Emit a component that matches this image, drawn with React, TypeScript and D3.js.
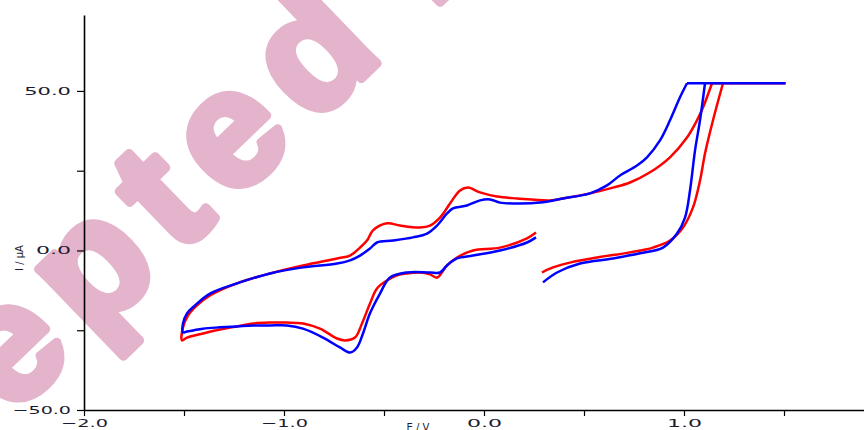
import { useEffect, useMemo, useRef } from "react";
import * as d3 from "d3";

const WIDTH = 864;
const HEIGHT = 430;
const MARGIN = { top: 15, right: 0, bottom: 20, left: 84 };

// potential (V), current (µA)
const redSweep: [number, number][] = [
  [0.26, 5.6], [0.215, 3.8], [0.08, 0.9], [-0.055, 0.0], [-0.135, -2.2], [-0.185, -4.7],
  [-0.235, -8.5], [-0.27, -7.5], [-0.32, -6.9], [-0.385, -7.2], [-0.435, -7.8], [-0.485, -9.4],
  [-0.535, -11.9], [-0.57, -16.6], [-0.61, -22.9], [-0.645, -27.3], [-0.695, -28.2], [-0.735, -27.6],
  [-0.82, -24.5], [-0.905, -22.9], [-0.985, -22.6], [-1.07, -22.6], [-1.155, -22.9], [-1.235, -23.8],
  [-1.32, -24.8], [-1.405, -26.0], [-1.485, -27.3], [-1.51, -28.2],
  [-1.505, -24.1], [-1.48, -20.4], [-1.435, -17.2], [-1.37, -14.1], [-1.235, -10.3], [-1.07, -7.2],
  [-0.905, -4.7], [-0.735, -2.5], [-0.67, -1.6], [-0.62, 0.9], [-0.585, 3.1], [-0.555, 6.3],
  [-0.485, 8.5], [-0.42, 7.8], [-0.32, 7.2], [-0.27, 7.8], [-0.22, 10.3], [-0.17, 14.7],
  [-0.12, 18.8], [-0.08, 19.7], [-0.02, 18.2], [0.065, 16.9], [0.165, 16.3], [0.33, 15.7],
  [0.395, 16.3], [0.53, 17.9], [0.645, 19.7], [0.73, 21.3], [0.83, 24.5], [0.93, 29.2],
  [1.015, 35.4], [1.065, 40.8], [1.095, 44.8], [1.14, 52.4],
];
const redClip: [number, number][] = [[1.14, 52.4], [1.51, 52.4]];
const redReturn: [number, number][] = [
  [1.195, 52.4], [1.145, 40.8], [1.105, 30.4], [1.08, 21.9], [1.045, 13.5],
  [0.995, 7.2], [0.93, 3.1], [0.845, 0.9], [0.73, -0.6], [0.565, -2.2], [0.43, -3.8],
  [0.345, -5.3], [0.29, -6.9],
];
const blueSweep: [number, number][] = [
  [0.26, 4.1], [0.215, 2.5], [0.08, 0.0], [-0.055, -1.6], [-0.135, -2.5], [-0.185, -4.7],
  [-0.22, -6.9], [-0.27, -6.9], [-0.385, -6.9], [-0.47, -8.5], [-0.52, -13.5], [-0.57, -19.7],
  [-0.605, -26.0], [-0.635, -30.4], [-0.67, -32.0], [-0.72, -30.4], [-0.805, -27.3], [-0.905, -24.5],
  [-0.985, -23.5], [-1.07, -23.5], [-1.155, -23.5], [-1.235, -23.8], [-1.32, -24.1], [-1.405, -24.5],
  [-1.485, -25.4], [-1.505, -25.7],
  [-1.505, -22.9], [-1.485, -19.7], [-1.445, -17.2], [-1.37, -13.5], [-1.235, -10.3], [-1.07, -7.2],
  [-0.905, -5.3], [-0.735, -4.1], [-0.67, -3.1], [-0.62, -1.6], [-0.57, 0.6], [-0.535, 2.5],
  [-0.455, 3.1], [-0.355, 4.1], [-0.285, 5.3], [-0.235, 7.8], [-0.185, 11.6], [-0.155, 13.2],
  [-0.085, 14.1], [-0.02, 15.7], [0.03, 16.0], [0.08, 15.0], [0.18, 14.7], [0.28, 15.0],
  [0.395, 16.3], [0.53, 17.9], [0.615, 20.4], [0.68, 23.5], [0.765, 26.6], [0.815, 29.2],
  [0.88, 34.5], [0.93, 40.8], [0.98, 48.0], [1.015, 52.4],
];
const blueClip: [number, number][] = [[1.015, 52.4], [1.505, 52.4]];
const blueReturn: [number, number][] = [
  [1.105, 52.4], [1.08, 40.8], [1.055, 31.3], [1.03, 18.8], [1.005, 10.3],
  [0.965, 5.3], [0.895, 0.9], [0.78, -0.9], [0.645, -2.5], [0.48, -4.1], [0.365, -6.9],
  [0.295, -10.0],
];

const X_TICKS = [-2, -1.5, -1, -0.5, 0, 0.5, 1, 1.5];
const Y_TICKS = [-50, -25, 0, 25, 50];
const X_LABELED = [-2, -1, 0, 1];
const Y_LABELED = [-50, 0, 50];

const LABEL_FONT = "'DejaVu Sans', Verdana, sans-serif";
const INK = "#1c1c30";
const WATERMARK = "#e4b4cc";

export default function App() {
  const axesRef = useRef<SVGGElement>(null);

  const xScale = useMemo(
    () => d3.scaleLinear().domain([-2.0, 1.9]).range([MARGIN.left, WIDTH - MARGIN.right]),
    []
  );
  const yScale = useMemo(
    () => d3.scaleLinear().domain([-50, 73.8]).range([HEIGHT - MARGIN.bottom, MARGIN.top]),
    []
  );

  const smooth = d3
    .line<[number, number]>()
    .x((d) => xScale(d[0]))
    .y((d) => yScale(d[1]))
    .curve(d3.curveCatmullRom.alpha(0.5));
  const straight = d3
    .line<[number, number]>()
    .x((d) => xScale(d[0]))
    .y((d) => yScale(d[1]));

  useEffect(() => {
    const g = d3.select(axesRef.current);
    g.selectAll("*").remove();
    const fmt = (v: number) => (v < 0 ? "\u2212" : "") + Math.abs(v).toFixed(1);

    const xAxis = d3
      .axisBottom(xScale)
      .tickValues(X_TICKS)
      .tickSize(6)
      .tickSizeOuter(0)
      .tickPadding(3)
      .tickFormat((v) => (X_LABELED.includes(+v) ? fmt(+v) : ""));
    g.append("g")
      .attr("transform", `translate(0,${yScale(-50)})`)
      .call(xAxis);

    const yAxis = d3
      .axisLeft(yScale)
      .tickValues(Y_TICKS)
      .tickSize(7)
      .tickSizeOuter(0)
      .tickPadding(6)
      .tickFormat((v) => (Y_LABELED.includes(+v) ? fmt(+v) : ""));
    g.append("g")
      .attr("transform", `translate(${xScale(-2)},0)`)
      .call(yAxis);

    g.selectAll(".domain").attr("stroke", "#000").attr("stroke-width", 1.6);
    g.selectAll(".tick line").attr("stroke", "#000").attr("stroke-width", 1.2);
    g.selectAll<SVGTextElement, unknown>(".tick text")
      .attr("fill", INK)
      .style("font-family", LABEL_FONT)
      .style("font-size", "11px")
      .each(function () {
        const t = this.textContent || "";
        if (t) {
          d3.select(this)
            .attr("textLength", t.length * 11.7)
            .attr("lengthAdjust", "spacingAndGlyphs");
        }
      });
  }, [xScale, yScale]);

  return (
    <svg
      width={WIDTH}
      height={HEIGHT}
      style={{ position: "absolute", left: 0, top: 0, background: "#fff" }}
    >
      <text
        transform="translate(-250,669) rotate(-44)"
        fill={WATERMARK}
        stroke={WATERMARK}
        strokeWidth={9}
        strokeLinejoin="round"
        style={{
          fontFamily: "'Liberation Sans', Arial, sans-serif",
          fontWeight: "bold",
          fontSize: 165,
          letterSpacing: "20px",
          wordSpacing: "-20px",
        }}
      >
        Accepted Manuscript
      </text>
      <g ref={axesRef} />
      <path d={smooth(redSweep) || ""} fill="none" stroke="#ff0000" strokeWidth={2.5} />
      <path d={straight(redClip) || ""} fill="none" stroke="#ff0000" strokeWidth={2.5} />
      <path d={smooth(redReturn) || ""} fill="none" stroke="#ff0000" strokeWidth={2.5} />
      <path d={smooth(blueSweep) || ""} fill="none" stroke="#0000ff" strokeWidth={2.5} />
      <path d={straight(blueClip) || ""} fill="none" stroke="#0000ff" strokeWidth={2.5} />
      <path d={smooth(blueReturn) || ""} fill="none" stroke="#0000ff" strokeWidth={2.5} />
      <text
        x={418}
        y={431}
        textAnchor="middle"
        fill={INK}
        style={{ fontFamily: LABEL_FONT, fontSize: 10 }}
      >
        E / V
      </text>
      <text
        transform="translate(23,258) rotate(-90)"
        textAnchor="middle"
        fill={INK}
        style={{ fontFamily: LABEL_FONT, fontSize: 10 }}
      >
        I / µA
      </text>
    </svg>
  );
}
